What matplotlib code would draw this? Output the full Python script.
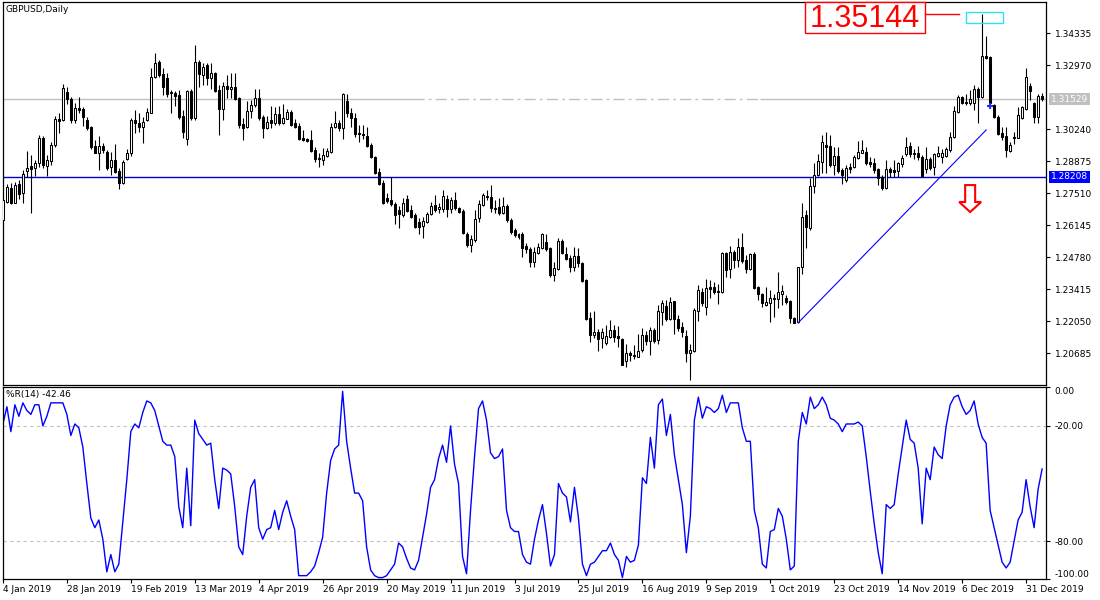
import numpy as np
import matplotlib.pyplot as plt
from matplotlib.patches import Rectangle

plt.rcParams['font.family'] = ['DejaVu Sans']
plt.rcParams['font.size'] = 6.5

symbol = 'GBPUSD,Daily'

opens = [1.2637, 1.2714, 1.2774, 1.2710, 1.2791, 1.2752, 1.2846, 1.2867, 1.2859, 1.2880,
         1.2987, 1.2867, 1.2888, 1.2957, 1.3068, 1.3064, 1.3183, 1.3153, 1.3064, 1.3115,
         1.3111, 1.3064, 1.3034, 1.2953, 1.2923, 1.2953, 1.2927, 1.2863, 1.2893, 1.2846,
         1.2795, 1.2897, 1.2923, 1.3064, 1.3051, 1.3034, 1.3064, 1.3093, 1.3247, 1.3311,
         1.3260, 1.3243, 1.3183, 1.3179, 1.3170, 1.3081, 1.2983, 1.3187, 1.3072, 1.3311,
         1.3256, 1.3298, 1.3243, 1.3264, 1.3192, 1.3111, 1.3209, 1.3196, 1.3204, 1.3157,
         1.3047, 1.3034, 1.3102, 1.3128, 1.3157, 1.3077, 1.3029, 1.3064, 1.3051, 1.3089,
         1.3051, 1.3068, 1.3098, 1.3051, 1.3038, 1.2987, 1.2983, 1.2978, 1.2936, 1.2901,
         1.2893, 1.2910, 1.2927, 1.3034, 1.3051, 1.3029, 1.3145, 1.3093, 1.3072, 1.3008,
         1.3004, 1.2995, 1.2957, 1.2906, 1.2842, 1.2795, 1.2731, 1.2722, 1.2705, 1.2680,
         1.2658, 1.2727, 1.2680, 1.2658, 1.2629, 1.2611, 1.2629, 1.2663, 1.2701, 1.2684,
         1.2684, 1.2727, 1.2684, 1.2722, 1.2688, 1.2675, 1.2577, 1.2530, 1.2552, 1.2645,
         1.2701, 1.2739, 1.2735, 1.2688, 1.2693, 1.2667, 1.2697, 1.2637, 1.2594, 1.2564,
         1.2577, 1.2526, 1.2513, 1.2458, 1.2496, 1.2517, 1.2543, 1.2517, 1.2402, 1.2428,
         1.2547, 1.2492, 1.2475, 1.2436, 1.2483, 1.2454, 1.2381, 1.2219, 1.2146, 1.2159,
         1.2134, 1.2112, 1.2138, 1.2168, 1.2142, 1.2129, 1.2035, 1.2070, 1.2061, 1.2052,
         1.2082, 1.2146, 1.2121, 1.2168, 1.2125, 1.2245, 1.2270, 1.2215, 1.2291, 1.2215,
         1.2181, 1.2142, 1.2070, 1.2078, 1.2249, 1.2330, 1.2266, 1.2351, 1.2351, 1.2334,
         1.2330, 1.2496, 1.2428, 1.2500, 1.2466, 1.2522, 1.2466, 1.2428, 1.2492, 1.2351,
         1.2321, 1.2274, 1.2283, 1.2304, 1.2300, 1.2321, 1.2304, 1.2291, 1.2219, 1.2203,
         1.2436, 1.2658, 1.2603, 1.2782, 1.2829, 1.2884, 1.2957, 1.2953, 1.2872, 1.2910,
         1.2850, 1.2808, 1.2863, 1.2863, 1.2901, 1.2923, 1.2927, 1.2884, 1.2880, 1.2854,
         1.2820, 1.2774, 1.2854, 1.2850, 1.2846, 1.2876, 1.2918, 1.2953, 1.2923, 1.2923,
         1.2906, 1.2854, 1.2897, 1.2863, 1.2910, 1.2906, 1.2910, 1.2936, 1.2991, 1.3098,
         1.3162, 1.3140, 1.3136, 1.3136, 1.3196, 1.3162, 1.3337, 1.3332, 1.3128, 1.3077,
         1.3008, 1.2995, 1.2931, 1.2991, 1.2987, 1.3072, 1.3111, 1.3209, 1.3136, 1.3077,
         1.3166]

highs = [1.2727, 1.2791, 1.2795, 1.2799, 1.2808, 1.2850, 1.2931, 1.2914, 1.2893, 1.3000,
         1.2995, 1.2914, 1.2970, 1.3081, 1.3094, 1.3217, 1.3204, 1.3162, 1.3136, 1.3162,
         1.3119, 1.3077, 1.3038, 1.2978, 1.2995, 1.2966, 1.2936, 1.2927, 1.2961, 1.2859,
         1.2893, 1.2940, 1.3072, 1.3106, 1.3093, 1.3077, 1.3115, 1.3286, 1.3349, 1.3320,
         1.3286, 1.3264, 1.3192, 1.3187, 1.3192, 1.3106, 1.3192, 1.3196, 1.3384, 1.3320,
         1.3307, 1.3307, 1.3307, 1.3268, 1.3213, 1.3226, 1.3256, 1.3264, 1.3264, 1.3162,
         1.3072, 1.3145, 1.3149, 1.3196, 1.3196, 1.3085, 1.3081, 1.3123, 1.3119, 1.3123,
         1.3132, 1.3111, 1.3106, 1.3068, 1.3051, 1.3021, 1.2987, 1.3021, 1.2948, 1.2923,
         1.2944, 1.2944, 1.3051, 1.3102, 1.3064, 1.3179, 1.3174, 1.3115, 1.3093, 1.3042,
         1.3042, 1.3034, 1.2966, 1.2910, 1.2859, 1.2808, 1.2752, 1.2820, 1.2714, 1.2697,
         1.2731, 1.2743, 1.2701, 1.2667, 1.2646, 1.2650, 1.2671, 1.2714, 1.2744, 1.2710,
         1.2765, 1.2744, 1.2735, 1.2757, 1.2693, 1.2684, 1.2586, 1.2573, 1.2680, 1.2722,
         1.2752, 1.2765, 1.2786, 1.2722, 1.2731, 1.2735, 1.2705, 1.2646, 1.2603, 1.2582,
         1.2586, 1.2539, 1.2522, 1.2522, 1.2539, 1.2582, 1.2577, 1.2522, 1.2458, 1.2560,
         1.2556, 1.2522, 1.2488, 1.2522, 1.2517, 1.2458, 1.2385, 1.2245, 1.2249, 1.2172,
         1.2176, 1.2189, 1.2210, 1.2189, 1.2185, 1.2134, 1.2108, 1.2078, 1.2104, 1.2151,
         1.2176, 1.2163, 1.2181, 1.2176, 1.2274, 1.2296, 1.2296, 1.2309, 1.2291, 1.2232,
         1.2202, 1.2168, 1.2108, 1.2262, 1.2360, 1.2347, 1.2385, 1.2381, 1.2372, 1.2364,
         1.2500, 1.2500, 1.2526, 1.2509, 1.2560, 1.2582, 1.2488, 1.2496, 1.2500, 1.2356,
         1.2326, 1.2351, 1.2338, 1.2321, 1.2415, 1.2360, 1.2317, 1.2296, 1.2223, 1.2438,
         1.2710, 1.2680, 1.2816, 1.2880, 1.2918, 1.3000, 1.3012, 1.3000, 1.2948, 1.2948,
         1.2859, 1.2872, 1.2880, 1.2914, 1.2974, 1.2978, 1.2948, 1.2906, 1.2901, 1.2859,
         1.2829, 1.2893, 1.2863, 1.2893, 1.2884, 1.2914, 1.2991, 1.2970, 1.2940, 1.2953,
         1.2914, 1.2948, 1.2906, 1.2923, 1.2953, 1.2940, 1.2948, 1.3012, 1.3123, 1.3170,
         1.3166, 1.3174, 1.3192, 1.3213, 1.3204, 1.35144, 1.3422, 1.3337, 1.3132, 1.3085,
         1.3034, 1.3034, 1.2970, 1.3012, 1.3119, 1.3123, 1.3286, 1.3221, 1.3140, 1.3174,
         1.3179]

lows = [1.2633, 1.2710, 1.2705, 1.2709, 1.2727, 1.2710, 1.2820, 1.2667, 1.2825, 1.2863,
        1.2859, 1.2825, 1.2872, 1.2948, 1.3008, 1.3059, 1.3132, 1.3051, 1.3051, 1.3093,
        1.3038, 1.3021, 1.2940, 1.2921, 1.2850, 1.2921, 1.2850, 1.2829, 1.2838, 1.2769,
        1.2791, 1.2893, 1.2910, 1.3008, 1.3012, 1.2966, 1.3059, 1.3093, 1.3243, 1.3247,
        1.3170, 1.3162, 1.3093, 1.3123, 1.3068, 1.2987, 1.2957, 1.3064, 1.3064, 1.3204,
        1.3213, 1.3213, 1.3196, 1.3183, 1.3000, 1.3064, 1.3157, 1.3157, 1.3149, 1.3029,
        1.2978, 1.3029, 1.3072, 1.3119, 1.3064, 1.2987, 1.3025, 1.3029, 1.3042, 1.3042,
        1.3047, 1.3068, 1.3038, 1.3029, 1.2978, 1.2974, 1.2970, 1.2927, 1.2884, 1.2863,
        1.2872, 1.2906, 1.2923, 1.3029, 1.3017, 1.2983, 1.3077, 1.3034, 1.2991, 1.2970,
        1.2983, 1.2948, 1.2901, 1.2833, 1.2787, 1.2707, 1.2710, 1.2697, 1.2620, 1.2603,
        1.2650, 1.2671, 1.2646, 1.2603, 1.2577, 1.2560, 1.2624, 1.2658, 1.2671, 1.2667,
        1.2671, 1.2650, 1.2667, 1.2680, 1.2667, 1.2577, 1.2522, 1.2500, 1.2543, 1.2629,
        1.2697, 1.2722, 1.2671, 1.2667, 1.2658, 1.2663, 1.2629, 1.2577, 1.2564, 1.2556,
        1.2479, 1.2496, 1.2436, 1.2436, 1.2492, 1.2513, 1.2505, 1.2394, 1.2377, 1.2424,
        1.2494, 1.2466, 1.2415, 1.2419, 1.2436, 1.2372, 1.2210, 1.2117, 1.2134, 1.2078,
        1.2091, 1.2104, 1.2134, 1.2117, 1.2095, 1.2018, 1.2010, 1.2035, 1.2044, 1.2052,
        1.2074, 1.2104, 1.2061, 1.2112, 1.2108, 1.2189, 1.2206, 1.2210, 1.2150, 1.2163,
        1.2138, 1.2031, 1.1954, 1.2074, 1.2206, 1.2270, 1.2232, 1.2304, 1.2321, 1.2279,
        1.2326, 1.2394, 1.2390, 1.2432, 1.2436, 1.2454, 1.2411, 1.2424, 1.2343, 1.2296,
        1.2266, 1.2270, 1.2202, 1.2223, 1.2262, 1.2274, 1.2279, 1.2198, 1.2196, 1.2199,
        1.2407, 1.2517, 1.2594, 1.2752, 1.2825, 1.2838, 1.2838, 1.2863, 1.2829, 1.2838,
        1.2791, 1.2799, 1.2838, 1.2859, 1.2897, 1.2921, 1.2872, 1.2863, 1.2838, 1.2787,
        1.2765, 1.2769, 1.2820, 1.2820, 1.2820, 1.2863, 1.2910, 1.2906, 1.2897, 1.2893,
        1.2820, 1.2838, 1.2850, 1.2829, 1.2906, 1.2880, 1.2906, 1.2927, 1.2987, 1.3093,
        1.3132, 1.3128, 1.3128, 1.3106, 1.3051, 1.3157, 1.3324, 1.3132, 1.3072, 1.3000,
        1.2978, 1.2906, 1.2927, 1.2961, 1.2987, 1.3068, 1.3106, 1.3149, 1.3051, 1.3051,
        1.3145]

closes = [1.2722, 1.2778, 1.2710, 1.2787, 1.2748, 1.2833, 1.2859, 1.2854, 1.2880, 1.2987,
          1.2872, 1.2893, 1.2957, 1.3068, 1.3060, 1.3200, 1.3153, 1.3064, 1.3115, 1.3106,
          1.3077, 1.3029, 1.2948, 1.2923, 1.2953, 1.2936, 1.2859, 1.2893, 1.2842, 1.2795,
          1.2884, 1.2923, 1.3064, 1.3051, 1.3034, 1.3055, 1.3098, 1.3247, 1.3307, 1.3256,
          1.3204, 1.3174, 1.3179, 1.3166, 1.3077, 1.3012, 1.3187, 1.3072, 1.3311, 1.3260,
          1.3290, 1.3243, 1.3264, 1.3187, 1.3111, 1.3209, 1.3196, 1.3204, 1.3153, 1.3042,
          1.3029, 1.3102, 1.3128, 1.3157, 1.3072, 1.3029, 1.3055, 1.3051, 1.3089, 1.3051,
          1.3072, 1.3098, 1.3042, 1.3034, 1.2983, 1.2978, 1.2974, 1.2931, 1.2897, 1.2897,
          1.2914, 1.2931, 1.3034, 1.3051, 1.3029, 1.3174, 1.3093, 1.3072, 1.3004, 1.3004,
          1.3000, 1.2953, 1.2906, 1.2838, 1.2791, 1.2710, 1.2718, 1.2705, 1.2658, 1.2662,
          1.2710, 1.2675, 1.2650, 1.2607, 1.2607, 1.2633, 1.2663, 1.2697, 1.2680, 1.2693,
          1.2739, 1.2684, 1.2722, 1.2688, 1.2671, 1.2582, 1.2530, 1.2556, 1.2641, 1.2705,
          1.2744, 1.2735, 1.2688, 1.2684, 1.2667, 1.2697, 1.2637, 1.2586, 1.2573, 1.2577,
          1.2517, 1.2513, 1.2458, 1.2500, 1.2522, 1.2577, 1.2513, 1.2402, 1.2432, 1.2547,
          1.2496, 1.2471, 1.2436, 1.2483, 1.2454, 1.2377, 1.2215, 1.2146, 1.2159, 1.2129,
          1.2159, 1.2142, 1.2168, 1.2138, 1.2134, 1.2018, 1.2070, 1.2061, 1.2057, 1.2078,
          1.2146, 1.2121, 1.2168, 1.2121, 1.2249, 1.2283, 1.2215, 1.2287, 1.2215, 1.2176,
          1.2159, 1.2070, 1.2082, 1.2253, 1.2338, 1.2283, 1.2347, 1.2343, 1.2330, 1.2330,
          1.2496, 1.2424, 1.2500, 1.2466, 1.2522, 1.2462, 1.2428, 1.2492, 1.2347, 1.2321,
          1.2283, 1.2287, 1.2304, 1.2300, 1.2330, 1.2334, 1.2287, 1.2219, 1.2198, 1.2436,
          1.2650, 1.2607, 1.2782, 1.2829, 1.2888, 1.2970, 1.2948, 1.2872, 1.2910, 1.2846,
          1.2829, 1.2859, 1.2854, 1.2906, 1.2927, 1.2936, 1.2880, 1.2876, 1.2850, 1.2816,
          1.2774, 1.2854, 1.2842, 1.2842, 1.2880, 1.2901, 1.2948, 1.2918, 1.2918, 1.2906,
          1.2825, 1.2897, 1.2859, 1.2918, 1.2923, 1.2923, 1.2940, 1.2991, 1.3102, 1.3162,
          1.3136, 1.3136, 1.3153, 1.3196, 1.3162, 1.3337, 1.3328, 1.3136, 1.3077, 1.3004,
          1.2991, 1.2936, 1.2957, 1.2987, 1.3085, 1.3119, 1.3247, 1.3187, 1.3077, 1.3166,
          1.31529]

# Williams %R(14)
wpr = [-19, -10, -23, -9, -15, -8, -12, -14, -9, -9,
       -20, -15, -8, -8, -8, -8, -14, -25, -19, -21,
       -31, -50, -68, -73, -69, -79, -96, -87, -96, -92,
       -70, -48, -23, -19, -21, -13, -7, -8, -12, -20,
       -28, -30, -30, -36, -62, -73, -42, -72, -17, -24,
       -27, -30, -29, -48, -63, -42, -43, -45, -62, -83,
       -87, -67, -52, -48, -73, -79, -74, -73, -64, -74,
       -65, -59, -67, -74, -98, -98, -98, -96, -93, -86,
       -78, -55, -38, -32, -30, -2, -28, -42, -55, -55,
       -59, -83, -95, -98, -99, -99, -98, -95, -92, -81,
       -83, -89, -94, -95, -90, -78, -66, -52, -48, -37,
       -30, -39, -20, -40, -50, -88, -97, -64, -36, -11,
       -7, -17, -34, -37, -36, -32, -64, -73, -75, -75,
       -87, -91, -92, -79, -69, -61, -76, -93, -87, -50,
       -55, -57, -70, -52, -68, -92, -98, -92, -91, -88,
       -85, -85, -81, -87, -90, -99, -88, -91, -90, -82,
       -47, -50, -26, -42, -9, -6, -25, -14, -35, -48,
       -61, -86, -67, -17, -5, -16, -10, -11, -13, -11,
       -4, -13, -8, -8, -8, -21, -28, -28, -64, -73,
       -92, -94, -75, -74, -63, -67, -79, -95, -93, -28,
       -13, -19, -5, -11, -9, -5, -9, -16, -17, -19,
       -23, -19, -19, -19, -18, -20, -36, -54, -71, -86,
       -97, -61, -63, -61, -45, -31, -17, -27, -29, -42,
       -71, -42, -48, -31, -35, -37, -20, -9, -5, -4,
       -10, -14, -12, -7, -19, -26, -29, -64, -73, -82,
       -91, -94, -91, -80, -69, -65, -48, -62, -73, -53,
       -42.46]

date_labels = ['4 Jan 2019', '28 Jan 2019', '19 Feb 2019', '13 Mar 2019', '4 Apr 2019',
               '26 Apr 2019', '20 May 2019', '11 Jun 2019', '3 Jul 2019', '25 Jul 2019',
               '16 Aug 2019', '9 Sep 2019', '1 Oct 2019', '23 Oct 2019', '14 Nov 2019',
               '6 Dec 2019', '31 Dec 2019']
date_step = 16

price_ticks = [1.34335, 1.32970, 1.30240, 1.28875, 1.27510, 1.26145,
               1.24780, 1.23415, 1.22050, 1.20685]
wpr_ticks = [0, -20, -80, -100]

level_price = 1.28208
trend_idx = [199, 246]
trend_price = [1.2199, 1.3021]
close_mark = (247, 1.3123)

x = np.arange(len(closes))
o = np.array(opens)
h = np.array(highs)
l = np.array(lows)
c = np.array(closes)
up = c >= o

fig = plt.figure(figsize=(11, 6), dpi=100)
ax = fig.add_axes([0.00245, 0.35833, 0.94891, 0.63833])
ax2 = fig.add_axes([0.00245, 0.03417, 0.94891, 0.32])

xlim = (-0.05, 261.1)

# price panel
last = closes[-1]
ax.hlines(last, xlim[0], 102.5, color='#c0c0c0', lw=1, zorder=1)
ax.hlines(last, 102.5, 189.5, color='#c0c0c0', lw=1, linestyles=[(0, (8, 3, 2, 3))], zorder=1)
ax.hlines(last, 189.5, xlim[1], color='#c0c0c0', lw=1, zorder=1)
ax.axhline(level_price, color='#0000cc', lw=1, zorder=1)

ax.vlines(x, l, h, color='black', lw=0.8, zorder=2)
ax.bar(x[up], (c - o)[up], bottom=o[up], width=0.5, color='white',
       edgecolor='black', linewidth=0.75, zorder=3)
ax.bar(x[~up], (o - c)[~up], bottom=c[~up], width=0.5, color='black',
       edgecolor='black', linewidth=0.75, zorder=3)

ax.plot(trend_idx, trend_price, color='#0000ff', lw=0.8, zorder=4)
ax.plot(*close_mark, marker='+', color='#2030ff', ms=5, mew=1.5, zorder=5)

# label on the year high
top = int(np.argmax(h))
ax.add_patch(Rectangle((200.75, 1.34334), 30.0, 0.01348, fc='white', ec='red', lw=1,
                       zorder=5, clip_on=False))
ax.text(215.75, 1.3460, f'{h[top]:.5f}', color='red', fontsize=22, ha='center',
        va='baseline', family='Liberation Sans', zorder=6)
ax.plot([230.75, 239.25], [h[top], h[top]], color='red', lw=1, zorder=5)
ax.add_patch(Rectangle((241, 1.34787), 9.25, 0.00469, fc='none', ec='#30e0f0', lw=1, zorder=5))

ax.arrow(242, 1.2786, 0, 1.2671 - 1.2786, width=2.5, head_width=5.5, head_length=0.0043,
         length_includes_head=True, fc='white', ec='red', lw=1.5, zorder=5)

ax.text(0.003, 0.993, symbol, transform=ax.transAxes, ha='left', va='top', fontsize=6.5)

ax.set_xlim(*xlim)
ax.set_ylim(1.19331, 1.35670)
ax.set_xticks([])
ax.yaxis.tick_right()
ax.set_yticks(price_ticks)
ax.set_yticklabels([f'{t:.5f}' for t in price_ticks])
ax.tick_params(axis='y', direction='out', length=3, pad=3, labelsize=6.5, width=0.8)

ax.annotate(f'{last:.5f}', xy=(1, last), xycoords=('axes fraction', 'data'),
            xytext=(3, 0), textcoords='offset points', ha='left', va='center',
            fontsize=6.5, color='white',
            bbox=dict(boxstyle='square,pad=0.2', fc='#c0c0c0', ec='none'))
ax.annotate(f'{level_price:.5f}', xy=(1, level_price), xycoords=('axes fraction', 'data'),
            xytext=(3, 0), textcoords='offset points', ha='left', va='center',
            fontsize=6.5, color='white',
            bbox=dict(boxstyle='square,pad=0.2', fc='#0000ff', ec='none'))

# Williams %R panel
ax2.axhline(-20, color='#c0c0c0', lw=0.8, ls=(0, (3, 3)))
ax2.axhline(-80, color='#c0c0c0', lw=0.8, ls=(0, (3, 3)))
ax2.plot(x, wpr, color='#0000ff', lw=1)
ax2.text(0.003, 0.985, f'%R(14) {wpr[-1]:.2f}', transform=ax2.transAxes,
         ha='left', va='top', fontsize=6.5)

ax2.set_xlim(*xlim)
ax2.set_ylim(-100, 0)
ax2.yaxis.tick_right()
ax2.set_yticks(wpr_ticks)
ax2.set_yticklabels([f'{t:.2f}' for t in wpr_ticks])
ax2.tick_params(axis='y', direction='out', length=3, pad=3, labelsize=6.5, width=0.8)
labs = ax2.get_yticklabels()
labs[0].set_va('top')
labs[-1].set_va('bottom')

ax2.set_xticks(np.arange(len(date_labels)) * date_step)
ax2.set_xticklabels(date_labels, ha='left')
ax2.tick_params(axis='x', direction='out', length=3, pad=1, labelsize=6.5, width=0.8)

for a in (ax, ax2):
    for s in a.spines.values():
        s.set_linewidth(0.9)
        s.set_color('black')

fig.savefig('out.png', dpi=100)
